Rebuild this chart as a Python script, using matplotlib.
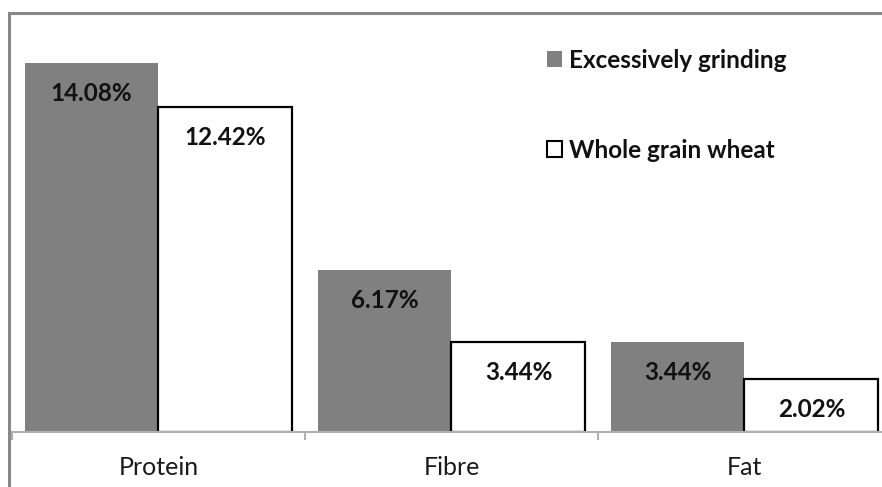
import matplotlib
matplotlib.use("Agg")
import matplotlib.pyplot as plt
from matplotlib.patches import Rectangle, Patch
import numpy as np

categories = ["Protein", "Fibre", "Fat"]
series_names = ["Excessively grinding", "Whole grain wheat"]
excess = [14.08, 6.17, 3.44]
whole = [12.42, 3.44, 2.02]

plt.rcParams['font.family'] = ['Lato', 'DejaVu Sans']

W, H = 882, 487
fig = plt.figure(figsize=(W/100, H/100), dpi=100)

# axes placement in pixels
x_left, x_right = 12, 891
y_top, y_bot = 13, 432
ax = fig.add_axes([x_left/W, 1 - y_bot/H, (x_right - x_left)/W, (y_bot - y_top)/H])
ax.set_xlim(-0.5, 2.5)
ax.set_ylim(0, 16)

x = np.arange(len(categories))
bw = 0.457
b1 = ax.bar(x - bw/2, excess, width=bw, color="#808080", edgecolor="none", label=series_names[0])
b2 = ax.bar(x + bw/2, whole, width=bw, color="white", edgecolor="black", linewidth=1.6, label=series_names[1])

for bars, vals in ((b1, excess), (b2, whole)):
    for r, v in zip(bars, vals):
        ax.annotate(f"{v:.2f}%", (r.get_x() + r.get_width()/2, v), xytext=(0, -22),
                    textcoords="offset points", ha="center", va="center",
                    fontsize=17.5, fontweight="bold", color="#111111")

for s in ("top", "right", "left"):
    ax.spines[s].set_visible(False)
ax.spines["bottom"].set_color("#b0b0b0")
ax.spines["bottom"].set_linewidth(1.5)
ax.set_yticks([])
ax.set_xticks([-0.5, 0.5, 1.5], minor=True)
ax.set_xticks(x)
ax.set_xticklabels(categories, fontsize=18, color="#1a1a1a")
ax.tick_params(axis="x", which="major", length=0, pad=17.5)
ax.tick_params(axis="x", which="minor", length=6, width=1.5, color="#b0b0b0")

leg = ax.legend(handles=[Patch(facecolor="#808080", edgecolor="none"),
                         Patch(facecolor="white", edgecolor="black", linewidth=1.5)],
                labels=series_names, loc="upper left", bbox_to_anchor=(0.5835, 0.967),
                frameon=False, prop={"weight": "bold", "size": 17.5},
                handlelength=0.62, handleheight=0.62, handletextpad=0.3, labelspacing=2.75)
for t in leg.get_texts():
    t.set_color("#111111")

# outer chart border (cropped)
fig.patches.append(Rectangle((9/W, -0.1), 2, 1 - 13/H + 0.1, transform=fig.transFigure,
                             fill=False, edgecolor="#888888", linewidth=2.2))

fig.savefig("out.png", dpi=100)
